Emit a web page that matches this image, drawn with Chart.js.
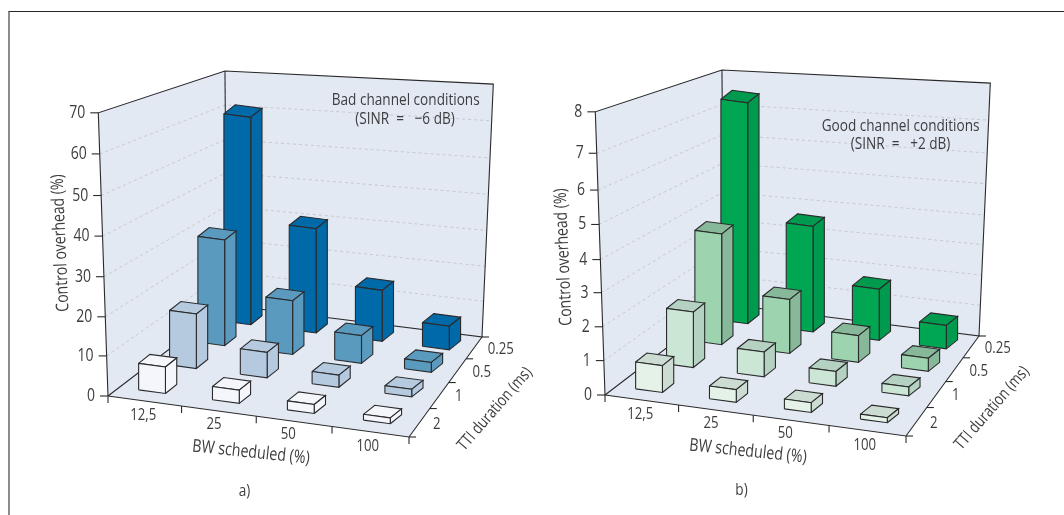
<!DOCTYPE html>
<html>
<head>
<meta charset="utf-8">
<script src="https://cdn.jsdelivr.net/npm/chart.js@4"></script>
<style>
  html, body { margin: 0; padding: 0; background: #fff; overflow: hidden; }
  #frame { position: absolute; left: 8px; top: 11px; width: 1056px; height: 504px; border-left: 2px solid #8c8c8c; border-top: 1px solid #26262a; box-sizing: border-box; }
  canvas { position: absolute; }
  #panelA { left: 0; top: 0; }
  #panelB { left: 497px; top: -1px; }
</style>
</head>
<body>
<div id="frame"></div>
<canvas id="panelA" width="540" height="515"></canvas>
<canvas id="panelB" width="560" height="515"></canvas>
<script>
// categories
const bwCategories = ['12,5', '25', '50', '100'];
const ttiCategories = ['2', '1', '0.5', '0.25'];

// tick labels
const badTicks = [0, 10, 20, 30, 40, 50, 60, 70];
const goodTicks = [0, 1, 2, 3, 4, 5, 6, 7, 8];

// bad channel values, one list per TTI, in BW order
const bad2ms = [6.7, 3.3, 2.2, 1.4];
const bad1ms = [14.5, 6.6, 3.1, 1.9];
const bad05ms = [29.5, 14.7, 7.4, 2.6];
const bad025ms = [60, 30, 14.4, 6.5];

// good channel values
const good2ms = [0.79, 0.37, 0.28, 0.14];
const good1ms = [1.72, 0.75, 0.44, 0.26];
const good05ms = [3.62, 1.72, 0.83, 0.4];
const good025ms = [7.39, 3.56, 1.68, 0.75];

const INK = '#2a2a2c';
const TEXT = '#3d3d40';
const WALL = '#e3e9f2';
const GRID = '#c6c9d0';
const FONT = '"Open Sans"';
const NARROW = 0.8;

// floor corners, vanishing point of the verticals, wall height factors
const floor = { p00: [108, 396], p10: [409, 437], p11: [482, 337], p01: [227, 305] };
const vanish = [269, 5100];
const rise = { f00: 0.0602, f10: 0.0645, f11: 0.0531, f01: 0.0488 };

// bar footprint on screen: front edge and side edge
const barFront = { x: 26.8, y: 3.6 };
const barSide = { x: 11.3, y: -9 };

// unit square to floor quad
const homography = (() => {
    const { p00, p10, p11, p01 } = floor;
    const dx1 = p10[0] - p11[0], dx2 = p01[0] - p11[0], sx = p00[0] - p10[0] + p11[0] - p01[0];
    const dy1 = p10[1] - p11[1], dy2 = p01[1] - p11[1], sy = p00[1] - p10[1] + p11[1] - p01[1];
    const den = dx1 * dy2 - dx2 * dy1;
    const g = (sx * dy2 - dx2 * sy) / den;
    const h = (dx1 * sy - sx * dy1) / den;
    return {
        g, h,
        a: p10[0] - p00[0] + g * p10[0], b: p01[0] - p00[0] + h * p01[0], c: p00[0],
        d: p10[1] - p00[1] + g * p10[1], e: p01[1] - p00[1] + h * p01[1], f: p00[1]
    };
})();

// u along BW, v along TTI, t = share of the axis height
function project(u, v, t) {
    const m = homography;
    const w = m.g * u + m.h * v + 1;
    const x = (m.a * u + m.b * v + m.c) / w;
    const y = (m.d * u + m.e * v + m.f) / w;
    const k = t * (rise.f00 * (1 - u) * (1 - v) + rise.f10 * u * (1 - v) + rise.f11 * u * v + rise.f01 * (1 - u) * v);
    return { x: x - k * (vanish[0] - x), y: y - k * (vanish[1] - y) };
}

// the printed axes are not quite even, so go through the tick heights
function axisShare(panel, value) {
    const ticks = panel.ticks, h = panel.tickHeights;
    let i = 0;
    while (i < ticks.length - 2 && value > ticks[i + 1]) i++;
    const r = (value - ticks[i]) / (ticks[i + 1] - ticks[i]);
    return (h[i] + r * (h[i + 1] - h[i])) / h[h.length - 1];
}

function polygon(points, fillColor, borderColor, width) {
    return {
        data: points.concat([points[0]]),
        showLine: true,
        fill: 'shape',
        backgroundColor: fillColor,
        borderColor: borderColor || fillColor,
        borderWidth: width === undefined ? 1.1 : width,
        pointRadius: 0,
        tension: 0,
        clip: false
    };
}

function line(points, color, width, dash) {
    return {
        data: points,
        showLine: true,
        fill: false,
        borderColor: color,
        borderWidth: width,
        borderDash: dash || [],
        pointRadius: 0,
        tension: 0,
        clip: false
    };
}

function shift(p, dx, dy) {
    return { x: p.x + dx, y: p.y + dy };
}

function buildDatasets(panel) {
    const out = [];
    const P = project;

    // walls and floor
    out.push(polygon([P(0, 0, 0), P(0, 0, 1), P(0, 1, 1), P(0, 1, 0)], WALL, WALL, 0));
    out.push(polygon([P(0, 1, 0), P(0, 1, 1), P(1, 1, 1), P(1, 1, 0)], WALL, WALL, 0));
    out.push(polygon([P(0, 0, 0), P(1, 0, 0), P(1, 1, 0), P(0, 1, 0)], WALL, WALL, 0));

    // dashed wall lines
    panel.ticks.slice(1, -1).forEach(v => {
        const t = axisShare(panel, v);
        out.push(line([P(0, 0, t), P(0, 1, t), P(1, 1, t)], GRID, 1, [3, 3]));
    });

    // frame of the box
    out.push(line([P(0, 0, 0), P(0, 0, 1), P(0, 1, 1), P(1, 1, 1), P(1, 1, 0)], INK, 1.1));
    out.push(line([P(0, 1, 1), P(0, 1, 0)], INK, 1.1));
    out.push(line([P(0, 0, 0), P(1, 0, 0), P(1, 1, 0), P(0, 1, 0), P(0, 0, 0)], INK, 1.1));

    // axis ticks
    panel.ticks.forEach(v => {
        const p = P(0, 0, axisShare(panel, v));
        out.push(line([p, shift(p, -8, 0)], INK, 1.1));
    });
    [0, 0.25, 0.5, 0.75, 1].forEach(u => {
        const p = P(u, 0, 0);
        out.push(line([p, shift(p, 0, 7)], INK, 1.1));
    });
    [0, 0.25, 0.5, 0.75, 1].forEach(v => {
        const p = P(1, v, 0);
        out.push(line([p, shift(p, 7, 0)], INK, 1.1));
    });

    // bars, back row first so the nearer ones cover them
    for (let j = panel.series.length - 1; j >= 0; j--) {
        const values = panel.series[j];
        const colors = panel.colors[j];
        for (let i = values.length - 1; i >= 0; i--) {
            const u = 0.113 + i * 0.2547, v = (j + 0.5) / 4;
            const base = P(u, v, 0);
            const rise = base.y - P(u, v, axisShare(panel, values[i])).y;
            const fl = shift(base, -(barFront.x + barSide.x) / 2, -(barFront.y + barSide.y) / 2);
            const fr = shift(fl, barFront.x, barFront.y);
            const br = shift(fr, barSide.x, barSide.y);
            const bl = shift(fl, barSide.x, barSide.y);
            const up = p => shift(p, 0, -rise);
            out.push(polygon([up(fl), up(fr), up(br), up(bl)], colors.top, INK));
            out.push(polygon([fr, br, up(br), up(fr)], colors.side, INK));
            out.push(polygon([fl, fr, up(fr), up(fl)], colors.front, INK));
        }
    }

    // chart.js paints the first dataset last
    return out.reverse();
}

function drawText(ctx, text, x, y, size, angle, align) {
    ctx.save();
    ctx.translate(x, y);
    ctx.rotate((angle || 0) * Math.PI / 180);
    ctx.scale(NARROW, 1);
    ctx.font = size + 'px ' + FONT;
    ctx.fillStyle = TEXT;
    ctx.textAlign = align || 'center';
    ctx.textBaseline = 'middle';
    ctx.fillText(text, 0, 0);
    ctx.restore();
}

const labelsPlugin = {
    id: 'labels',
    afterDatasetsDraw(chart) {
        const panel = chart.options.plugins.labels.panel;
        const ctx = chart.ctx;

        panel.ticks.forEach(v => {
            const p = project(0, 0, axisShare(panel, v));
            drawText(ctx, String(v), p.x - 13, p.y, 17.5, 0, 'right');
        });

        const bwAt = [[143.3, 415.7], [214, 424.3], [288.3, 434.3], [367.7, 446]];
        bwCategories.forEach((c, i) => drawText(ctx, c, bwAt[i][0], bwAt[i][1], 16.5));
        const ttiAt = [[436.7, 424.3], [458.7, 396], [481.7, 372.3], [500.7, 349.3]];
        ttiCategories.forEach((c, i) => drawText(ctx, c, ttiAt[i][0], ttiAt[i][1], 16.5));

        drawText(ctx, 'BW scheduled (%)', 251, 452.5, 17.8, 6);
        drawText(ctx, 'TTI duration (ms)', 495, 409, 16.5, -49);
        drawText(ctx, 'Control overhead (%)', panel.yTitle[0], panel.yTitle[1], 17.5, -92.5);
        panel.note.forEach(n => drawText(ctx, n[0], n[1], n[2], 17));
        drawText(ctx, panel.tag, 244.5, 491, 17);
    }
};

function makePanel(id, panel) {
    return new Chart(document.getElementById(id), {
        type: 'scatter',
        data: { datasets: buildDatasets(panel) },
        plugins: [labelsPlugin],
        options: {
            responsive: false,
            animation: false,
            events: [],
            layout: { padding: 0 },
            plugins: {
                legend: { display: false },
                tooltip: { enabled: false },
                labels: { panel }
            },
            scales: {
                x: { type: 'linear', display: false, min: 0, max: document.getElementById(id).width },
                y: { type: 'linear', display: false, min: 0, max: 515, reverse: true }
            }
        }
    });
}

makePanel('panelA', {
    ticks: badTicks,
    tickHeights: [0, 40, 79, 119, 159.5, 200, 241.5, 282.5],
    series: [bad2ms, bad1ms, bad05ms, bad025ms],
    colors: [
        { front: '#f4f6fb', side: '#f4f6fb', top: '#f4f6fb' },
        { front: '#b5cade', side: '#b5cade', top: '#b5cade' },
        { front: '#5a9abe', side: '#5a9abe', top: '#5a9abe' },
        { front: '#0069a8', side: '#0069a8', top: '#0069a8' }
    ],
    yTitle: [60.5, 243],
    note: [['Bad channel conditions', 405.7, 100], ['(SINR  =   \u22126 dB)', 405, 119]],
    tag: 'a)'
});

makePanel('panelB', {
    ticks: goodTicks,
    tickHeights: [0, 34.3, 68, 102, 135, 170, 204.3, 241, 282.3],
    series: [good2ms, good1ms, good05ms, good025ms],
    colors: [
        { front: '#e4f2e8', side: '#ccdcd2', top: '#ccdcd2' },
        { front: '#cce6d5', side: '#b5d1c1', top: '#b5d1c1' },
        { front: '#9dd3ae', side: '#88b89a', top: '#88b89a' },
        { front: '#00a651', side: '#009a4f', top: '#009a4f' }
    ],
    yTitle: [66.6, 258],
    note: [['Good channel conditions', 403.6, 127.3], ['(SINR  =   +2 dB)', 403.6, 145.6]],
    tag: 'b)'
});
</script>
</body>
</html>
